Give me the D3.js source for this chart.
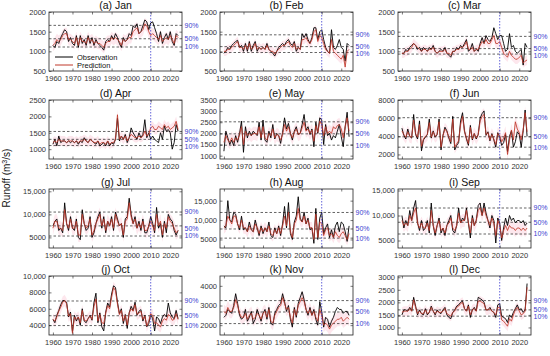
<!DOCTYPE html>
<html>
<head>
<meta charset="utf-8">
<script src="https://cdn.jsdelivr.net/npm/d3@7.9.0/dist/d3.min.js"></script>
<style>
  body { margin: 0; background: #fff; }
  svg { display: block; font-family: "Liberation Sans", Arial, sans-serif; }
</style>
</head>
<body>
<svg id="chart" width="550" height="356"></svg>
<script>
const years = d3.range(1960, 2025);
const titles = ['(a) Jan', '(b) Feb', '(c) Mar', '(d) Apr', '(e) May', '(f) Jun',
  '(g) Jul', '(h) Aug', '(i) Sep', '(j) Oct', '(k) Nov', '(l) Dec'];

// observed / predicted runoff, one value per year 1960-2024
const obsJan = [1150, 1100, 1250, 1200, 1350, 1450, 1550, 1500, 1250, 1350,
  1200, 1150, 1400, 1100, 1400, 1200, 1300, 1150, 1400, 1200,
  1350, 1150, 1300, 1200, 1150, 1100, 1030, 1250, 1300, 1250,
  1400, 1300, 1450, 1350, 1200, 1100, 1350, 1250, 1300, 1450,
  1400, 1650, 1600, 1700, 1450, 1500, 1650, 1800, 1750, 1550,
  1720, 1750, 1600, 1450, 1250, 1500, 1200, 1350, 1450, 1300,
  1500, 1250, 1150, 1450, 1400];
const predJan = [1150, 1200, 1300, 1250, 1300, 1400, 1450, 1450, 1300, 1300,
  1250, 1200, 1350, 1150, 1350, 1250, 1250, 1200, 1350, 1250,
  1300, 1200, 1250, 1200, 1200, 1150, 1100, 1200, 1250, 1250,
  1350, 1300, 1350, 1300, 1250, 1150, 1300, 1250, 1300, 1350,
  1350, 1500, 1550, 1600, 1450, 1500, 1550, 1700, 1650, 1500,
  1400, 1450, 1400, 1350, 1300, 1400, 1250, 1300, 1350, 1300,
  1400, 1300, 1200, 1400, 1350];

const obsFeb = [950, 1000, 1100, 1050, 1150, 1200, 1250, 1280, 1100, 1150,
  1000, 1200, 1000, 1250, 1000, 1150, 1250, 1000, 1100, 1050,
  1100, 1050, 1200, 1050, 1000, 950, 880, 1000, 1100, 1150,
  1200, 1150, 1250, 1300, 1200, 1150, 1250, 1000, 1100, 1050,
  1450, 1350, 1450, 1300, 1200, 1350, 1600, 1600, 1300, 1500,
  1550, 1300, 1100, 1000, 950, 1550, 1100, 1050, 1150, 1300,
  1100, 1050, 750, 1200, 1150];
const predFeb = [1000, 1000, 1050, 1050, 1100, 1150, 1200, 1250, 1100, 1100,
  1050, 1150, 1050, 1200, 1050, 1100, 1200, 1050, 1100, 1050,
  1100, 1050, 1150, 1050, 1000, 1000, 930, 1000, 1050, 1100,
  1150, 1150, 1200, 1250, 1150, 1100, 1200, 1050, 1100, 1050,
  1300, 1300, 1350, 1250, 1200, 1300, 1500, 1550, 1250, 1400,
  1350, 1200, 1050, 1000, 950, 1300, 1000, 950, 900, 850,
  800, 900, 600, 1000, 1050];

const obsMar = [950, 950, 1050, 1000, 1100, 1150, 1200, 1150, 1050, 1100,
  1000, 1100, 1050, 1000, 1100, 1050, 1150, 1000, 950, 1000,
  1050, 1000, 1100, 950, 900, 850, 1000, 1000, 1100, 1050,
  1150, 1100, 1200, 1300, 1000, 1050, 1200, 1000, 1050, 1000,
  1200, 1350, 1200, 1400, 1300, 1250, 1350, 1600, 1450, 1300,
  1400, 1400, 1200, 1000, 1050, 1450, 1100, 1150, 1000, 950,
  1000, 1050, 650, 1200, 1100];
const predMar = [950, 950, 1000, 1000, 1050, 1100, 1200, 1150, 1100, 1050,
  1000, 1050, 1050, 1000, 1050, 1050, 1100, 1000, 950, 1000,
  1000, 1000, 1050, 950, 950, 900, 1000, 1000, 1050, 1050,
  1100, 1100, 1150, 1250, 1050, 1050, 1100, 1000, 1050, 1050,
  1150, 1250, 1200, 1300, 1200, 1200, 1300, 1400, 1200, 1200,
  1250, 1100, 950, 900, 850, 1000, 900, 850, 800, 800,
  850, 900, 700, 750, 780];

const obsApr = [1150, 1300, 1100, 1400, 1200, 1250, 1250, 1200, 1250, 1200,
  1250, 1200, 1250, 1150, 1250, 1200, 1350, 1250, 1200, 1300,
  1250, 1200, 1150, 1250, 1100, 1150, 1200, 1100, 1250, 1100,
  1200, 1150, 1300, 1950, 1250, 1400, 1300, 1450, 1200, 1350,
  1650, 1500, 1400, 1300, 1500, 1350, 1450, 1900, 1350, 1500,
  1300, 1400, 1300, 1250, 1200, 1500, 1300, 1700, 1550, 1600,
  1500, 1000, 1200, 1750, 1550];
const predApr = [1200, 1250, 1200, 1300, 1250, 1250, 1250, 1200, 1250, 1250,
  1250, 1200, 1250, 1200, 1250, 1250, 1300, 1250, 1200, 1300,
  1250, 1200, 1200, 1250, 1150, 1200, 1200, 1150, 1250, 1150,
  1200, 1200, 1300, 2050, 1300, 1400, 1300, 1400, 1250, 1350,
  1450, 1400, 1350, 1350, 1400, 1350, 1400, 1550, 1400, 1450,
  1650, 1700, 1600, 1600, 1700, 1650, 1600, 1750, 1650, 1700,
  1600, 1650, 1700, 1850, 1600];

const obsMay = [1200, 2100, 1800, 1500, 1700, 1450, 1900, 1600, 2000, 2550,
  1150, 2300, 1800, 2100, 1900, 2100, 2000, 1900, 2500, 1700,
  2600, 1700, 1600, 2100, 1800, 2400, 1750, 2000, 1900, 1550,
  2050, 2700, 2200, 2450, 2000, 1700, 2100, 2300, 1950, 2000,
  2400, 2850, 2150, 2300, 1950, 2200, 1400, 2500, 2000, 2700,
  2600, 1500, 2400, 1900, 2000, 1700, 1900, 1800, 2100, 2400,
  1850, 1400, 2300, 2950, 1850];
const predMay = [1600, 1900, 1700, 1600, 1800, 1600, 1800, 1700, 1950, 2300,
  1500, 2100, 1900, 2000, 1900, 2000, 2000, 1950, 2300, 1800,
  2300, 1800, 1700, 2000, 1900, 2200, 1800, 1950, 1900, 1700,
  1950, 2400, 2100, 2300, 2000, 1800, 2050, 2200, 1950, 2000,
  2250, 2500, 2100, 2200, 2000, 2150, 1650, 2350, 2050, 2550,
  2400, 1900, 2300, 2000, 2100, 2000, 2300, 2200, 2350, 2400,
  2200, 1800, 2300, 2700, 2100];

const obsJun = [4900, 4100, 3700, 4800, 4000, 3800, 6400, 4200, 3700, 5700,
  2400, 3600, 3900, 4200, 5900, 3800, 4600, 3900, 4200, 5900,
  2500, 4100, 5000, 4600, 3800, 3200, 6200, 2500, 3000, 3300,
  5700, 6600, 4600, 3700, 3000, 5200, 3600, 4300, 3700, 4200,
  6000, 6500, 6800, 4100, 4500, 3500, 4300, 3600, 2800, 4400,
  3900, 3000, 3300, 4200, 2300, 4000, 4600, 2800, 3400, 4500,
  4200, 2800, 4600, 6900, 4000];
const predJun = [4600, 4200, 3900, 4500, 4000, 3900, 5800, 4300, 3900, 5300,
  2900, 3700, 4000, 4200, 5500, 3900, 4500, 4000, 4200, 5600,
  2800, 4100, 4800, 4500, 3900, 3400, 5900, 2800, 3200, 3500,
  5300, 6200, 4500, 3800, 3200, 5000, 3700, 4300, 3800, 4200,
  5700, 6200, 6400, 4200, 4400, 3600, 4200, 3700, 3100, 4300,
  4100, 3400, 3800, 4400, 2000, 3600, 4700, 3600, 5600, 4800,
  4400, 3600, 4700, 6600, 4500];

const obsJul = [7500, 8500, 9000, 6500, 7000, 6000, 12500, 8000, 6500, 9500,
  7000, 6500, 9000, 5000, 4500, 11000, 8000, 6500, 7000, 9500,
  5000, 6000, 8000, 9500, 10500, 7000, 9500, 6000, 8500, 7500,
  9500, 6500, 10500, 9000, 7500, 8000, 5000, 9000, 9500, 13500,
  10000, 8000, 9500, 7000, 8500, 6500, 9000, 6000, 6000, 7500,
  9500, 8000, 6000, 11500, 7000, 8000, 5000, 8500, 6000, 10000,
  9000, 8500, 6500, 5500, 6500];
const predJul = [7000, 8500, 8500, 7000, 7000, 6500, 11000, 8000, 7000, 9000,
  7000, 7000, 8500, 5500, 5500, 10000, 8000, 7000, 7500, 9000,
  5500, 6500, 8000, 9000, 10000, 7500, 9000, 6500, 8500, 7500,
  9000, 7000, 10000, 8500, 7500, 8000, 5500, 8500, 9000, 12500,
  9500, 8000, 9000, 7000, 8000, 7000, 8500, 6500, 6500, 7500,
  8500, 7500, 6500, 10000, 7500, 8500, 5500, 8000, 7000, 9500,
  8500, 8000, 7000, 6000, 6500];

const obsAug = [8500, 8000, 15000, 10000, 9500, 12000, 11500, 9000, 7500, 11000,
  7500, 8000, 7000, 9500, 7500, 7000, 10000, 8000, 6000, 8500,
  6500, 8000, 7000, 9500, 6000, 5500, 8000, 6500, 8500, 6000,
  9000, 13500, 8000, 14500, 6500, 5000, 9500, 11000, 16000, 10500,
  9500, 12000, 9000, 10500, 7500, 8000, 4000, 13000, 5000, 10500,
  12000, 6500, 8000, 9000, 5500, 7500, 5500, 8500, 9500, 7000,
  9500, 9000, 7000, 4500, 8500];
const predAug = [8000, 8500, 11000, 10000, 9000, 11000, 11000, 9000, 8000, 10000,
  8000, 8000, 7000, 8500, 7500, 7000, 9000, 8000, 6500, 8000,
  7000, 8000, 7000, 8500, 6500, 6000, 7500, 6500, 8000, 6500,
  8500, 11000, 8500, 12000, 7000, 5500, 9000, 10000, 13000, 10000,
  9500, 11000, 9000, 10000, 8000, 8000, 5000, 11500, 5500, 9500,
  9000, 6000, 7500, 8000, 6000, 6500, 5500, 7000, 6000, 5500,
  6500, 7000, 6000, 5000, 6500];

const obsSep = [10000, 7500, 9000, 8000, 11000, 9000, 11500, 13000, 8500, 7000,
  9000, 7000, 7500, 9000, 6500, 12500, 8000, 6000, 8000, 9500,
  6500, 7500, 6000, 8000, 9000, 10000, 7000, 6500, 8000, 11500,
  8500, 9500, 9000, 11500, 8500, 5500, 10000, 8000, 9000, 12000,
  12500, 10000, 12500, 10500, 9000, 7500, 10000, 9000, 4500, 9500,
  8500, 5000, 7500, 9500, 8000, 10000, 9000, 9500, 8500, 9000,
  9000, 8500, 9000, 8000, 8500];
const predSep = [9000, 8000, 8500, 8000, 10000, 9000, 10500, 11500, 8500, 7500,
  8500, 7500, 7500, 8500, 7000, 11000, 8000, 6500, 8000, 9000,
  7000, 7500, 6500, 8000, 8500, 9500, 7500, 7000, 8000, 10500,
  8500, 9000, 9000, 11000, 8500, 6500, 9500, 8000, 9000, 11000,
  11500, 10000, 11500, 10000, 9000, 8000, 9500, 8500, 6000, 9000,
  8000, 5500, 7000, 8000, 7000, 8000, 7500, 7500, 7000, 7500,
  7500, 7000, 7500, 7000, 7500];

const obsOct = [4700, 4300, 5200, 5800, 6500, 7000, 7000, 6800, 5000, 5600,
  3200, 5200, 4500, 5000, 4000, 6000, 4500, 4300, 4800, 5200,
  4600, 6800, 7900, 4300, 5500, 3800, 3300, 5600, 6700, 6200,
  7800, 8800, 8600, 6800, 5400, 6000, 4200, 5300, 3600, 5500,
  6300, 5800, 6800, 5200, 5700, 5900, 4500, 5200, 3800, 4200,
  5300, 4800, 3300, 5000, 4800, 4200, 5000, 5300, 5000, 6700,
  5500, 5000, 4800, 5800, 4800];
const predOct = [4700, 4500, 5000, 5700, 6200, 6800, 7000, 6600, 5100, 5400,
  3000, 5000, 4700, 5000, 4300, 5800, 4600, 4500, 4800, 5100,
  4700, 6300, 7200, 4500, 5300, 4300, 4200, 5500, 6400, 6000,
  7400, 8600, 8200, 6600, 5300, 5800, 4500, 5200, 4000, 5500,
  6000, 5700, 6500, 5300, 5500, 5700, 4700, 5100, 3900, 4500,
  5400, 5200, 4200, 4300, 4000, 3800, 4500, 4800, 4600, 5300,
  5100, 4600, 4700, 5400, 4700];

const obsNov = [2400, 2500, 2800, 2700, 2600, 3000, 3600, 3100, 2500, 2300,
  2400, 2800, 2200, 2400, 2700, 2100, 2300, 2800, 2500, 2200,
  2600, 2800, 2300, 2900, 2100, 2000, 2600, 2800, 3000, 3100,
  3600, 3200, 2700, 3000, 2300, 1900, 2900, 2400, 3100, 3400,
  3700, 3300, 2800, 2500, 2900, 2500, 2800, 2300, 2000, 3200,
  2700, 1900, 2400, 2300, 1900, 2200, 2400, 2700, 2900, 2800,
  2800, 2600, 2700, 2700, 2500];
const predNov = [2700, 2600, 2900, 2700, 2700, 2900, 3300, 3000, 2600, 2400,
  2400, 2600, 2300, 2500, 2600, 2300, 2400, 2600, 2500, 2300,
  2600, 2700, 2400, 2800, 2200, 2100, 2500, 2700, 2900, 3000,
  3400, 3100, 2800, 2900, 2400, 2100, 2800, 2500, 3000, 3200,
  3400, 3200, 2800, 2600, 2800, 2500, 2700, 2400, 2200, 2800,
  2500, 2000, 2100, 2000, 1800, 2000, 2100, 2200, 2300, 2300,
  2400, 2200, 2300, 2400, 2300];

const obsDec = [1500, 1700, 1700, 1650, 1800, 1650, 2200, 1850, 1500, 1700,
  1550, 1500, 1750, 1500, 1600, 1850, 1650, 1500, 1700, 1600,
  1550, 1700, 1800, 1500, 1400, 1350, 1600, 1700, 1850, 1900,
  2000, 2050, 1750, 1650, 1900, 1400, 1700, 1800, 1650, 2200,
  2150, 2100, 2000, 1700, 1700, 1800, 1650, 1600, 1400, 1900,
  1950, 1450, 1400, 1350, 1200, 1500, 1400, 1600, 1750, 1900,
  1700, 1750, 1600, 1700, 2750];
const predDec = [1600, 1650, 1650, 1650, 1750, 1650, 2100, 1800, 1550, 1650,
  1550, 1550, 1700, 1550, 1600, 1800, 1650, 1550, 1650, 1600,
  1600, 1650, 1750, 1550, 1500, 1450, 1600, 1650, 1800, 1850,
  1950, 2000, 1750, 1650, 1850, 1500, 1700, 1750, 1650, 2050,
  2050, 2000, 1950, 1700, 1700, 1750, 1650, 1600, 1500, 1800,
  1800, 1300, 1250, 1150, 1050, 1350, 1250, 1500, 1700, 1800,
  1650, 1500, 1550, 1650, 2600];

// y domains, tick values, 90/50/10 % levels, half-width of prediction band
const yDomains = [[500, 2000], [500, 2000], [500, 2000], [700, 2500], [850, 3500], [1500, 8000],
  [2700, 15500], [2800, 18000], [3500, 15300], [2800, 10000], [1500, 4500], [700, 3050]];
const yTicks = [[500, 1000, 1500, 2000], [500, 1000, 1500, 2000], [500, 1000, 1500, 2000],
  [1000, 1500, 2000, 2500], [1000, 1500, 2000, 2500, 3000, 3500], [2000, 4000, 6000, 8000],
  [5000, 10000, 15000], [5000, 10000, 15000], [5000, 10000, 15000],
  [4000, 6000, 8000, 10000], [2000, 3000, 4000], [1000, 1500, 2000, 2500, 3000]];
const quantiles = [[1660, 1320, 1110], [1420, 1120, 970], [1380, 1070, 930], [1540, 1300, 1110],
  [2520, 1980, 1470], [6050, 3950, 2800], [10500, 7500, 5300], [11950, 7700, 5340],
  [11500, 8650, 6300], [6950, 5150, 3950], [3250, 2670, 2080], [2070, 1700, 1450]];
const quantileLabels = ['90%', '50%', '10%'];
const bandWidth = [150, 120, 120, 150, 300, 700, 1500, 1500, 1300, 700, 350, 200];
const xTicks = [1960, 1970, 1980, 1990, 2000, 2010, 2020];
const splitYear = 2010;

const obsAll = [obsJan, obsFeb, obsMar, obsApr, obsMay, obsJun, obsJul, obsAug, obsSep, obsOct, obsNov, obsDec];
const predAll = [predJan, predFeb, predMar, predApr, predMay, predJun, predJul, predAug, predSep, predOct, predNov, predDec];

const svg = d3.select('#chart');
const colLeft = [49, 220, 398];
const rowTop = [12, 100, 189, 276];
const pw = 133, ph = 59;
const blue = '#3c3ccf';
const predColor = '#c0392b';

const fmt = (d) => (d >= 10000 ? d3.format(',')(d) : String(d));

titles.forEach((title, k) => {
  const col = k % 3, row = Math.floor(k / 3);
  const g = svg.append('g').attr('transform', `translate(${colLeft[col]},${rowTop[row]})`);
  const x = d3.scaleLinear().domain([1958, 2026]).range([0, pw]);
  const y = d3.scaleLinear().domain(yDomains[k]).range([ph, 0]);
  const obs = obsAll[k], pred = predAll[k];

  const clipId = 'clip' + k;
  g.append('clipPath').attr('id', clipId)
    .append('rect').attr('width', pw).attr('height', ph);
  const plot = g.append('g').attr('clip-path', `url(#${clipId})`);

  // prediction band
  plot.append('path')
    .datum(pred)
    .attr('fill', '#fbc9d6')
    .attr('opacity', 0.45)
    .attr('d', d3.area()
      .x((d, i) => x(years[i]))
      .y0((d) => y(d - bandWidth[k]))
      .y1((d) => y(d + bandWidth[k])));

  // quantile lines
  quantiles[k].forEach((q) => {
    plot.append('line')
      .attr('x1', 0).attr('x2', pw)
      .attr('y1', y(q)).attr('y2', y(q))
      .attr('stroke', '#222').attr('stroke-width', 0.7)
      .attr('stroke-dasharray', '2.5,2');
  });

  plot.append('path')
    .datum(obs)
    .attr('fill', 'none')
    .attr('stroke', '#000')
    .attr('stroke-width', 0.9)
    .attr('d', d3.line().x((d, i) => x(years[i])).y((d) => y(d)));

  plot.append('path')
    .datum(pred)
    .attr('fill', 'none')
    .attr('stroke', predColor)
    .attr('stroke-width', 0.85)
    .attr('d', d3.line().x((d, i) => x(years[i])).y((d) => y(d)));

  // split year
  plot.append('line')
    .attr('x1', x(splitYear)).attr('x2', x(splitYear))
    .attr('y1', 0).attr('y2', ph)
    .attr('stroke', blue).attr('stroke-width', 0.8)
    .attr('stroke-dasharray', '1.5,1.5');

  // axes
  const axisStyle = (sel) => {
    sel.selectAll('.domain').remove();
    sel.selectAll('line').attr('stroke', '#222').attr('stroke-width', 0.6);
    sel.selectAll('text').attr('fill', '#333').attr('font-size', 7.5);
  };
  g.append('g').attr('transform', `translate(0,${ph})`)
    .call(d3.axisBottom(x).tickValues(xTicks).tickFormat(d3.format('d')).tickSize(-2.5).tickPadding(5))
    .call(axisStyle);
  g.append('g')
    .call(d3.axisTop(x).tickValues(xTicks).tickFormat('').tickSize(-2.5))
    .call(axisStyle);
  g.append('g').attr('class', 'y-left')
    .call(d3.axisLeft(y).tickValues(yTicks[k]).tickFormat(fmt).tickSize(-2.5).tickPadding(3))
    .call(axisStyle);
  g.append('g').attr('transform', `translate(${pw},0)`)
    .call(d3.axisRight(y).tickValues(yTicks[k]).tickFormat('').tickSize(-2.5))
    .call(axisStyle);

  g.append('rect')
    .attr('width', pw).attr('height', ph)
    .attr('fill', 'none').attr('stroke', '#222').attr('stroke-width', 0.8);

  // right-hand percentile labels, nudged apart when the lines are close
  const labelY = quantiles[k].map((q) => y(q));
  for (let i = 1; i < labelY.length; i++) {
    if (labelY[i] - labelY[i - 1] < 7) labelY[i] = labelY[i - 1] + 7;
  }
  quantiles[k].forEach((q, i) => {
    g.append('text')
      .attr('class', 'pct')
      .attr('x', pw + 2.5).attr('y', labelY[i])
      .attr('dy', '0.35em')
      .attr('font-size', 7)
      .attr('fill', blue)
      .text(quantileLabels[i]);
  });

  g.append('text')
    .attr('x', pw / 2).attr('y', -3)
    .attr('text-anchor', 'middle')
    .attr('font-size', 10.5)
    .attr('fill', '#111')
    .text(title);

  if (k === 0) {
    const legend = g.append('g').attr('transform', 'translate(6,45)');
    [['Observation', '#000'], ['Prediction', predColor]].forEach(([name, c], i) => {
      legend.append('line')
        .attr('x1', 0).attr('x2', 18).attr('y1', i * 8).attr('y2', i * 8)
        .attr('stroke', c).attr('stroke-width', 1);
      legend.append('text')
        .attr('x', 22).attr('y', i * 8).attr('dy', '0.35em')
        .attr('font-size', 7.5).attr('fill', '#111')
        .text(name);
    });
  }
});

// keep percentile labels clear of the neighbouring panel's tick labels
const tickBoxes = svg.selectAll('.y-left text').nodes().map((n) => n.getBoundingClientRect());
svg.selectAll('.pct').each(function () {
  const r = this.getBoundingClientRect();
  tickBoxes.forEach((t) => {
    const hit = r.right > t.left && r.left < t.right && r.bottom > t.top && r.top < t.bottom;
    if (!hit) return;
    const sel = d3.select(this);
    const cur = +sel.attr('y');
    if (r.top + r.height / 2 >= t.top + t.height / 2) sel.attr('y', cur + (t.bottom - r.top) + 0.3);
    else sel.attr('y', cur - (r.bottom - t.top) - 0.3);
  });
});

svg.append('text')
  .attr('transform', 'translate(10,178) rotate(-90)')
  .attr('text-anchor', 'middle')
  .attr('font-size', 10)
  .attr('fill', '#111')
  .html('Runoff (m<tspan baseline-shift="super" font-size="7">3</tspan>/s)');
</script>
</body>
</html>
